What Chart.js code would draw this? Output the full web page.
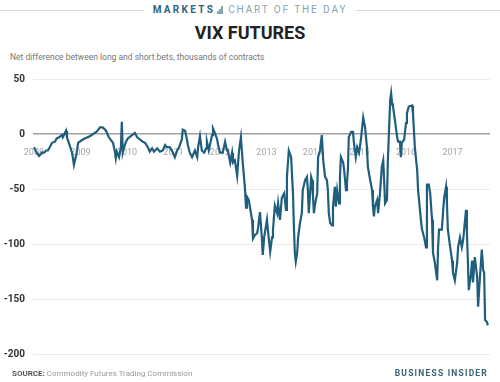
<!DOCTYPE html>
<html>
<head>
<meta charset="utf-8">
<script src="https://cdn.jsdelivr.net/npm/chart.js@4/dist/chart.umd.min.js"></script>
<style>
  html, body { margin: 0; padding: 0; background: #fff; }
  body { width: 500px; height: 382px; position: relative; overflow: hidden; font-family: Roboto, "Open Sans", sans-serif; }
  .abs { position: absolute; white-space: nowrap; }
  #hdrLineL { left: 0; top: 10px; width: 144px; height: 1px; background: #d8d8d8; }
  #hdrLineR { left: 356px; top: 10px; width: 144px; height: 1px; background: #d8d8d8; }
  #hdr { left: 0; width: 500px; top: 4px; text-align: center; font-size: 10px; line-height: 12px; }
  #hdr .m { font-weight: 700; color: #2f6579; letter-spacing: 2.3px; }
  #hdr .c { color: #86a4b0; letter-spacing: 1.9px; }
  #hdr .ico { display: inline-block; width: 6px; height: 8px; margin: 0 5px 0 2px; vertical-align: -1px; position: relative; }
  #hdr .ico i { position: absolute; bottom: 0; width: 1.5px; background: #86a4b0; }
  #title { left: 0; width: 500px; top: 22px; text-align: center; font-size: 18px; font-weight: 700; color: #222; line-height: 22px; }
  #sub { left: 10px; top: 52px; font-size: 8.5px; color: #777; line-height: 10px; }
  #src { left: 12px; top: 369px; font-size: 8px; color: #999; line-height: 10px; }
  #src b { color: #555; }
  #bi { right: 12px; top: 368px; font-size: 8.5px; font-weight: 700; color: #3a6175; letter-spacing: 1.2px; line-height: 10px; }
  #wrap { position: absolute; left: 0; top: 0; width: 500px; height: 382px; }
</style>
</head>
<body>
<div class="abs" id="hdrLineL"></div>
<div class="abs" id="hdrLineR"></div>
<div class="abs" id="hdr"><span class="m">MARKETS</span><span class="ico"><i style="left:0;height:3px"></i><i style="left:2px;height:5px"></i><i style="left:4px;height:8px"></i></span><span class="c">CHART OF THE DAY</span></div>
<div class="abs" id="title">VIX FUTURES</div>
<div class="abs" id="sub">Net difference between long and short bets, thousands of contracts</div>
<div id="wrap"><canvas id="c" width="500" height="382"></canvas></div>
<div class="abs" id="src"><b>SOURCE:</b> Commodity Futures Trading Commission</div>
<div class="abs" id="bi">BUSINESS INSIDER</div>
<script>
// Dates as decimal years (weekly CFTC reports)
const dates = [
  2008.00,2008.06,2008.11,2008.17,2008.22,2008.26,2008.30,2008.34,2008.39,2008.45,2008.49,2008.54,2008.60,2008.62,2008.69,2008.71,2008.75,2008.82,2008.86,2008.92,2008.95,
  2009.05,2009.20,2009.35,2009.42,2009.48,2009.55,2009.61,2009.70,2009.74,2009.76,2009.78,2009.83,2009.87,2009.89,2009.91,2009.94,2009.98,
  2010.02,2010.11,2010.17,2010.22,2010.28,2010.34,2010.39,2010.45,2010.49,2010.54,2010.58,2010.65,2010.71,2010.77,2010.82,2010.86,2010.92,2010.99,
  2011.03,2011.08,2011.12,2011.18,2011.20,2011.25,2011.29,2011.31,2011.35,2011.40,2011.46,2011.51,2011.53,2011.57,2011.61,2011.66,2011.70,2011.72,2011.76,2011.83,2011.85,2011.89,2011.94,2011.96,
  2012.00,2012.06,2012.11,2012.15,2012.17,2012.22,2012.26,2012.28,2012.32,2012.37,2012.39,2012.41,2012.45,2012.49,2012.54,2012.56,2012.58,2012.62,2012.69,2012.71,2012.75,2012.80,2012.82,2012.86,2012.90,2012.92,2012.95,
  2013.01,2013.03,2013.08,2013.12,2013.14,2013.18,2013.23,2013.25,2013.29,2013.33,2013.38,2013.42,2013.44,2013.48,2013.53,2013.57,2013.59,2013.61,2013.63,2013.66,2013.68,2013.72,2013.76,2013.78,2013.83,2013.87,2013.89,2013.91,2013.96,2013.98,
  2014.00,2014.02,2014.04,2014.09,2014.11,2014.15,2014.19,2014.22,2014.26,2014.30,2014.32,2014.34,2014.37,2014.41,2014.43,2014.47,2014.49,2014.52,2014.56,2014.58,2014.60,2014.65,2014.67,2014.71,2014.73,2014.75,2014.77,2014.82,2014.86,2014.88,2014.92,2014.95,2014.99,
  2015.03,2015.08,2015.12,2015.16,2015.18,2015.23,2015.27,2015.29,2015.31,2015.33,2015.38,2015.40,2015.44,2015.48,2015.51,2015.53,2015.55,2015.59,2015.61,2015.66,2015.68,2015.70,2015.72,2015.76,2015.81,2015.83,2015.87,2015.89,2015.91,2015.96,
  2016.00,2016.02,2016.06,2016.13,2016.15,2016.19,2016.24,2016.26,2016.32,2016.34,2016.39,2016.43,2016.45,2016.49,2016.52,2016.56,2016.58,2016.62,2016.67,2016.69,2016.71,2016.77,2016.80,2016.82,2016.86,2016.88,2016.90,2016.95,2016.99,
  2017.01,2017.05,2017.10,2017.12,2017.16,2017.20,2017.23,2017.27,2017.29,2017.31,2017.33,2017.35,2017.40,2017.42,2017.44,2017.48,2017.53,2017.55,2017.59,2017.63,2017.66,2017.68,2017.70,2017.74,2017.76
];
// Net positions, thousands of contracts
const netPositions = [
  -12,-17,-20,-17,-17,-15,-15,-12,-8,-7,-4,-3,-1,-3,3,-3,-8,-17,-28,-17,-8,
  -5,-2,2,6,6,3,-3,-8,-16,-22,-16,-21,-12,11,-17,-12,-7,
  -4,-1,1,-3,-5,-7,-8,-12,-16,-13,-16,-13,-16,-15,-10,-12,-12,-17,
  -21,-15,-12,-5,4,3,-5,-10,-17,-21,-15,-21,-12,-2,-15,-17,-13,-7,-15,-1,5,1,-5,-10,
  -17,-17,-7,-15,-15,-26,-17,-26,-24,-38,-26,-15,-3,-26,-51,-67,-57,-60,-78,-95,-92,-90,-85,-71,-94,-110,-94,
  -78,-87,-107,-94,-87,-65,-72,-63,-78,-58,-54,-69,-39,-15,-21,-54,-85,-108,-116,-108,-94,-81,-72,-51,-42,-39,-51,-72,-39,-42,
  -57,-72,-65,-54,-21,-15,-1,-24,-39,-42,-51,-72,-81,-83,-66,-48,-66,-51,-63,-39,-21,-26,-33,-51,-45,-33,-3,2,2,-8,-21,-12,-17,
  -5,15,6,-12,-30,-42,-51,-66,-75,-66,-60,-72,-54,-30,-24,-42,-63,-60,-24,31,37,28,25,13,-3,-7,-7,-21,-8,-5,
  10,19,25,26,19,-12,-33,-51,-78,-86,-94,-103,-46,-46,-54,-78,-108,-117,-133,-103,-87,-87,-69,-58,-48,-63,-87,-103,-115,
  -126,-133,-117,-103,-94,-103,-96,-78,-69,-90,-115,-142,-126,-115,-135,-112,-130,-157,-130,-105,-124,-126,-169,-171,-174
];
const yTicks = [50, 0, -50, -100, -150, -200];
const yearTicks = [2008, 2009, 2010, 2011, 2012, 2013, 2014, 2015, 2016, 2017];

const points = dates.map((d, i) => ({ x: d, y: netPositions[i] }));

new Chart(document.getElementById('c'), {
  type: 'line',
  data: {
    datasets: [{
      data: points,
      borderColor: '#1f5e7d',
      borderWidth: 2.2,
      pointRadius: 0,
      tension: 0,
      fill: false
    }]
  },
  options: {
    responsive: false,
    animation: false,
    events: [],
    layout: { padding: { top: 79, bottom: 28, left: 0, right: 10 } },
    plugins: { legend: { display: false }, tooltip: { enabled: false } },
    scales: {
      x: {
        type: 'linear',
        position: { y: 0 },
        min: 2007.98,
        max: 2017.806,
        afterBuildTicks: (s) => { s.ticks = yearTicks.map(v => ({ value: v })); },
        ticks: {
          callback: (v) => String(v),
          color: '#a5a5a5',
          font: { family: 'Roboto', size: 9 },
          padding: 5,
          maxRotation: 0,
          autoSkip: false
        },
        grid: { display: false },
        border: { display: false }
      },
      y: {
        min: -200,
        max: 50,
        afterBuildTicks: (s) => { s.ticks = yTicks.map(v => ({ value: v })); },
        afterFit: (s) => { s.width = 33; },
        ticks: {
          color: '#333',
          font: { family: 'Roboto', size: 10, weight: 'bold' },
          padding: 8
        },
        grid: {
          drawTicks: false,
          color: (ctx) => ctx.tick && ctx.tick.value === 0 ? '#a0a0a0' : '#ececec',
          lineWidth: (ctx) => ctx.tick && ctx.tick.value === 0 ? 1.5 : 1
        },
        border: { display: false }
      }
    }
  }
});
</script>
</body>
</html>
